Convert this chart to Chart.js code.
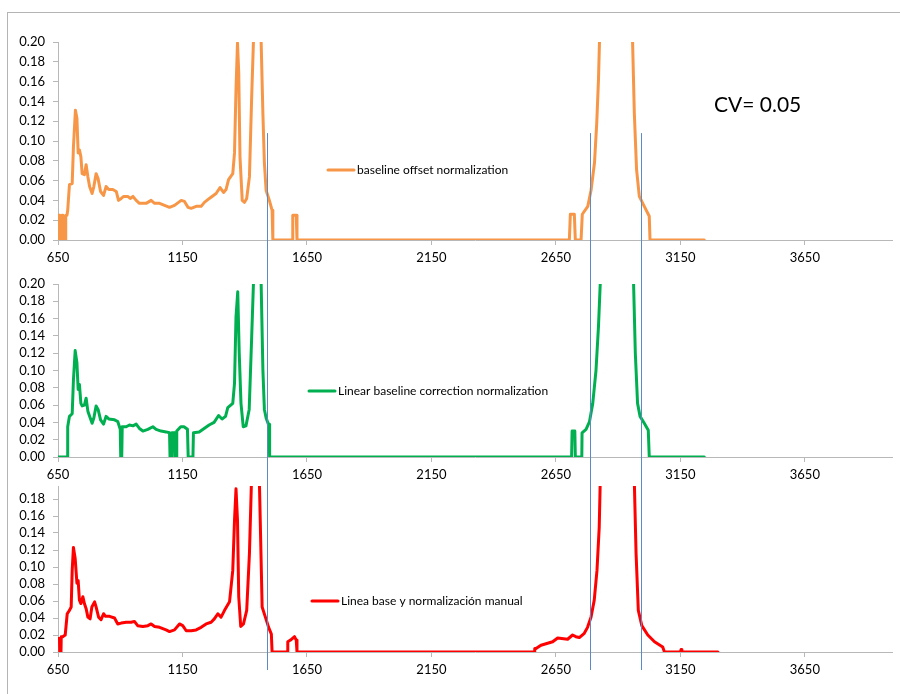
<!DOCTYPE html>
<html lang="en">
<head>
  <meta charset="UTF-8">
  <title>CV 0.05 normalization comparison</title>
  <script src="https://cdn.jsdelivr.net/npm/chart.js"></script>
  <style>
    body {
      margin: 0;
      background: #fff;
      font-family: 'Lato', sans-serif;
      width: 900px;
      height: 694px;
      overflow: hidden;
      position: relative;
    }
    canvas {
      position: absolute;
      left: 0;
    }
    #c1 { top: 0; z-index: 1; }
    #c2 { top: 268px; z-index: 3; }
    #c3 { top: 466px; z-index: 2; }
    #frame {
      position: absolute;
      left: 7px;
      top: 12px;
      width: 900px;
      height: 700px;
      border-left: 1px solid #b4b4b4;
      border-top: 1px solid #b4b4b4;
      z-index: 5;
      pointer-events: none;
    }
    #cv {
      position: absolute;
      left: 714px;
      top: 91px;
      font-size: 21px;
      color: #000;
      z-index: 6;
    }
  </style>
</head>
<body>

<div id="frame"></div>
<div id="cv">CV= 0.05</div>
<canvas id="c1" width="900" height="268"></canvas>
<canvas id="c2" width="900" height="218"></canvas>
<canvas id="c3" width="900" height="228"></canvas>

<script>
  // axis ticks
  var xTicks = [650, 1150, 1650, 2150, 2650, 3150, 3650];
  var yTicks = [0, 0.02, 0.04, 0.06, 0.08, 0.10, 0.12, 0.14, 0.16, 0.18, 0.20];

  // vertical marker lines (wavenumber)
  var markerX = [1490, 2785, 2990];
  var markerTop = 0.108;

  // baseline offset normalization
  var orangeX = [650, 653, 656, 658, 663, 666, 669, 672, 679, 681, 686, 689, 696, 707, 712, 720, 726, 731, 736, 742,
    747, 756, 763, 770, 777, 787, 794, 803, 811, 821, 833, 843, 854, 870, 884, 893, 904, 914, 930, 940,
    951, 964, 977, 1004, 1024, 1038, 1058, 1078, 1098, 1118, 1145, 1158, 1172, 1185, 1205, 1225, 1238, 1258, 1285, 1301,
    1315, 1325, 1335, 1352, 1359, 1365, 1371, 1376, 1381, 1390, 1399, 1408, 1419, 1428, 1435, 1445, 1452, 1460, 1466, 1473,
    1479, 1486, 1499, 1510, 1513, 1590, 1593, 1607, 1610, 2704, 2708, 2724, 2728, 2751, 2756, 2778, 2791, 2805, 2814, 2821,
    2825, 2840, 2870, 2890, 2920, 2945, 2958, 2965, 2974, 2985, 3005, 3025, 3028, 3246];
  var orangeY = [0, 0.025, 0.025, 0, 0, 0.025, 0.025, 0, 0, 0.025, 0.025, 0.030, 0.056, 0.057, 0.094, 0.131, 0.123, 0.088, 0.091, 0.084,
    0.067, 0.066, 0.076, 0.064, 0.054, 0.047, 0.054, 0.067, 0.062, 0.049, 0.045, 0.054, 0.051, 0.051, 0.049, 0.040, 0.042, 0.044, 0.044, 0.042,
    0.044, 0.040, 0.037, 0.037, 0.040, 0.037, 0.037, 0.035, 0.033, 0.035, 0.040, 0.039, 0.033, 0.032, 0.034, 0.034, 0.038, 0.042, 0.047, 0.053,
    0.048, 0.051, 0.061, 0.067, 0.088, 0.152, 0.199, 0.169, 0.084, 0.040, 0.038, 0.042, 0.064, 0.145, 0.20, 0.40, 0.55, 0.35, 0.20, 0.128,
    0.078, 0.050, 0.040, 0.030, 0, 0, 0.025, 0.025, 0, 0, 0.026, 0.026, 0, 0, 0.026, 0.034, 0.050, 0.078, 0.118, 0.162,
    0.20, 0.40, 0.80, 1.00, 0.80, 0.40, 0.20, 0.128, 0.071, 0.044, 0.034, 0.024, 0, 0];

  // linear baseline correction normalization
  var greenX = [650, 687, 689, 696, 707, 712, 719, 726, 731, 736, 742, 747, 756, 763, 770, 777, 787, 794, 803, 811,
    821, 833, 843, 854, 877, 890, 900, 902, 906, 908, 924, 937, 951, 964, 977, 991, 1011, 1031, 1044, 1064,
    1084, 1098, 1100, 1106, 1108, 1117, 1119, 1125, 1127, 1143, 1156, 1170, 1173, 1192, 1194, 1217, 1237, 1257, 1277, 1295,
    1309, 1323, 1332, 1352, 1359, 1365, 1372, 1378, 1385, 1394, 1405, 1418, 1428, 1435, 1445, 1452, 1460, 1466, 1473, 1479,
    1486, 1495, 1498, 1500, 2713, 2715, 2726, 2728, 2754, 2755, 2771, 2785, 2798, 2811, 2821, 2828, 2845, 2870, 2890, 2920,
    2945, 2962, 2969, 2978, 2988, 3005, 3021, 3025, 3246];
  var greenY = [0, 0, 0.035, 0.047, 0.050, 0.089, 0.123, 0.109, 0.078, 0.084, 0.062, 0.059, 0.060, 0.068, 0.053, 0.047, 0.039, 0.045, 0.059, 0.055,
    0.043, 0.038, 0.047, 0.044, 0.043, 0.041, 0.032, 0, 0, 0.035, 0.035, 0.037, 0.036, 0.038, 0.033, 0.030, 0.032, 0.035, 0.032, 0.030,
    0.029, 0.028, 0, 0, 0.028, 0.028, 0, 0, 0.030, 0.035, 0.035, 0.032, 0, 0, 0.028, 0.029, 0.033, 0.037, 0.040, 0.048,
    0.044, 0.047, 0.057, 0.062, 0.085, 0.162, 0.191, 0.120, 0.062, 0.035, 0.036, 0.055, 0.139, 0.20, 0.40, 0.55, 0.35, 0.20, 0.101, 0.055,
    0.045, 0.038, 0.038, 0, 0, 0.030, 0.030, 0, 0, 0.028, 0.032, 0.041, 0.062, 0.100, 0.151, 0.20, 0.40, 0.80, 1.00, 0.80,
    0.40, 0.20, 0.120, 0.062, 0.047, 0.039, 0.031, 0, 0];

  // Linea base y normalizacion manual
  var redX = [650, 656, 657, 662, 663, 669, 679, 687, 696, 703, 707, 712, 719, 726, 731, 736, 742, 750, 756, 763,
    770, 779, 786, 797, 803, 813, 823, 833, 841, 857, 877, 890, 904, 924, 944, 957, 970, 991, 1011, 1024,
    1038, 1058, 1084, 1098, 1118, 1138, 1151, 1165, 1185, 1205, 1225, 1245, 1265, 1278, 1292, 1305, 1319, 1339, 1352, 1359,
    1365, 1371, 1376, 1384, 1395, 1408, 1419, 1427, 1440, 1448, 1455, 1459, 1470, 1483, 1496, 1507, 1510, 1570, 1573, 1584,
    1600, 1607, 1610, 2563, 2565, 2570, 2590, 2637, 2657, 2697, 2717, 2730, 2744, 2764, 2777, 2791, 2804, 2815, 2824, 2828,
    2845, 2880, 2920, 2950, 2965, 2972, 2981, 2995, 3019, 3046, 3079, 3086, 3150, 3153, 3156, 3301];
  var redY = [0.016, 0.016, 0, 0, 0.018, 0.018, 0.020, 0.045, 0.049, 0.053, 0.096, 0.123, 0.110, 0.081, 0.084, 0.061, 0.057, 0.065, 0.057, 0.051,
    0.041, 0.039, 0.053, 0.059, 0.053, 0.041, 0.038, 0.045, 0.042, 0.042, 0.040, 0.033, 0.034, 0.035, 0.035, 0.036, 0.031, 0.030, 0.031, 0.033,
    0.030, 0.029, 0.026, 0.024, 0.026, 0.033, 0.031, 0.025, 0.025, 0.026, 0.029, 0.033, 0.035, 0.039, 0.045, 0.041, 0.049, 0.059, 0.096, 0.155,
    0.192, 0.155, 0.065, 0.030, 0.033, 0.049, 0.116, 0.20, 0.45, 0.55, 0.35, 0.20, 0.053, 0.041, 0.029, 0.021, 0, 0, 0.012, 0.014,
    0.018, 0.014, 0, 0, 0.004, 0.004, 0.008, 0.012, 0.0165, 0.015, 0.020, 0.018, 0.017, 0.022, 0.029, 0.041, 0.061, 0.096, 0.147, 0.20,
    0.45, 1.00, 0.80, 0.40, 0.20, 0.116, 0.049, 0.031, 0.020, 0.012, 0.006, 0, 0, 0.003, 0, 0];

  var axisGrey = '#b8b8b8';
  var tickFont = { family: 'Lato', size: 13 };

  function toPoints(xs, ys) {
    var pts = [];
    for (var i = 0; i < xs.length; i++) {
      pts.push({ x: xs[i], y: ys[i] });
    }
    return pts;
  }

  // white background, legend and the blue marker lines
  var panelPlugin = {
    id: 'panel',
    beforeDraw: function (chart, args, opts) {
      if (opts.fillWhite) {
        var c = chart.ctx;
        c.save();
        c.fillStyle = '#fff';
        c.fillRect(0, 0, chart.width, chart.height);
        c.restore();
      }
    },
    afterDatasetsDraw: function (chart, args, opts) {
      var c = chart.ctx;
      var area = chart.chartArea;
      var ds = chart.data.datasets[0];

      // legend
      var lx = area.left + opts.legendX;
      var ly = area.top + opts.legendY;
      c.save();
      c.strokeStyle = ds.borderColor;
      c.lineWidth = 3;
      c.lineCap = 'round';
      c.beginPath();
      c.moveTo(lx, ly);
      c.lineTo(lx + 26, ly);
      c.stroke();
      c.fillStyle = '#000';
      c.font = '12px Lato';
      c.textBaseline = 'middle';
      c.fillText(ds.label, lx + 29, ly);

      // marker lines
      var top = opts.markerFromValue ? chart.scales.y.getPixelForValue(markerTop) : 0;
      var bottom = opts.markerBelow != null ? area.bottom + opts.markerBelow : chart.height;
      c.strokeStyle = '#5b8bc6';
      c.lineWidth = 1;
      c.lineCap = 'butt';
      markerX.forEach(function (v) {
        var px = Math.round(chart.scales.x.getPixelForValue(v)) + 0.5;
        c.beginPath();
        c.moveTo(px, top);
        c.lineTo(px, bottom);
        c.stroke();
      });
      c.restore();
    }
  };

  function makePanel(id, xs, ys, color, label, cfg) {
    var ctx = document.getElementById(id).getContext('2d');
    return new Chart(ctx, {
      type: 'line',
      data: {
        datasets: [{
          label: label,
          data: toPoints(xs, ys),
          borderColor: color,
          backgroundColor: color,
          borderWidth: 3,
          pointRadius: 0,
          tension: 0,
          borderJoinStyle: 'round',
          borderCapStyle: 'round'
        }]
      },
      plugins: [panelPlugin],
      options: {
        responsive: false,
        animation: false,
        layout: {
          padding: { top: cfg.padTop, right: 8, left: 0, bottom: 0 }
        },
        scales: {
          x: {
            type: 'linear',
            min: 650,
            max: 4000,
            afterBuildTicks: function (axis) {
              axis.ticks = xTicks.map(function (v) { return { value: v }; });
            },
            afterFit: function (axis) { axis.height = cfg.xHeight; },
            grid: { drawOnChartArea: false, drawTicks: true, tickLength: 5, color: axisGrey },
            border: { color: axisGrey },
            ticks: {
              autoSkip: false,
              maxRotation: 0,
              padding: 5,
              color: '#000',
              font: tickFont,
              callback: function (v) { return v; }
            }
          },
          y: {
            min: 0,
            max: 0.2,
            afterBuildTicks: function (axis) {
              axis.ticks = yTicks.map(function (v) { return { value: v }; });
            },
            afterFit: function (axis) { axis.width = 58; },
            grid: { drawOnChartArea: false, drawTicks: true, tickLength: 5, color: axisGrey },
            border: { color: axisGrey },
            ticks: {
              autoSkip: false,
              padding: 8,
              color: '#000',
              font: tickFont,
              callback: function (v) { return Number(v).toFixed(2); }
            }
          }
        },
        plugins: {
          legend: { display: false },
          tooltip: { enabled: false },
          panel: cfg.panel
        }
      }
    });
  }

  makePanel('c1', orangeX, orangeY, '#f79646', 'baseline offset normalization', {
    padTop: 42, xHeight: 28,
    panel: { legendX: 270, legendY: 128, markerFromValue: true }
  });

  makePanel('c2', greenX, greenY, '#00b050', 'Linear baseline correction normalization', {
    padTop: 16, xHeight: 29,
    panel: { legendX: 251, legendY: 107, fillWhite: true }
  });

  makePanel('c3', redX, redY, '#ff0000', 'Linea base y normalización manual', {
    padTop: 16, xHeight: 42,
    panel: { legendX: 254, legendY: 119, markerBelow: 18 }
  });
</script>

</body>
</html>
